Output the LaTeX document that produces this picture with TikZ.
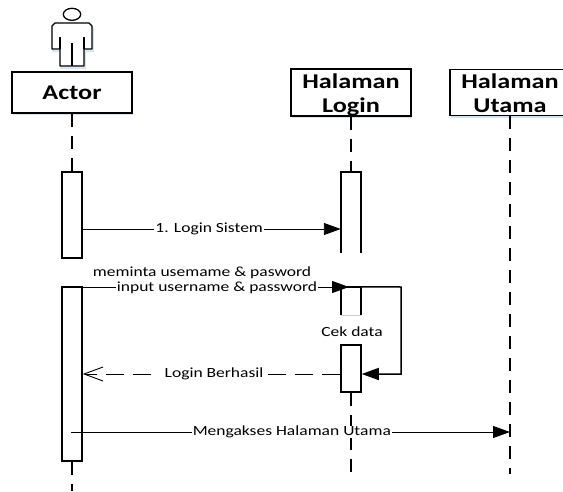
\documentclass[tikz,border=0pt]{standalone}
\usepackage{fontspec}
\setmainfont{Carlito}[FakeStretch=1.25]
\usetikzlibrary{arrows.meta,shadows}
\definecolor{glow}{RGB}{150,190,230}
\tikzset{
  x=1pt,y=-1pt,
  line/.style={line width=1.3pt,black},
  head/.style={draw,line width=1.5pt,fill=white,minimum width=120pt,minimum height=41pt,inner sep=0pt,
    align=center,font=\fontsize{21}{24}\selectfont\bfseries,
    drop shadow={shadow xshift=1pt,shadow yshift=-2pt,fill=glow,opacity=.45}},
  activ/.style={draw,line width=1.5pt,fill=white,minimum width=20pt,inner sep=0pt},
  openactiv/.style={fill=white,minimum width=20pt,inner sep=0pt},
  life/.style={line width=1.6pt,dash pattern=on 13pt off 9pt},
  msg/.style={line width=.9pt,-{Triangle[length=17pt,width=12pt]}},
  ret/.style={line width=.9pt,dash pattern=on 18pt off 9pt,-{Straight Barb[length=19pt,width=14pt,line width=.9pt]}},
  lab/.style={fill=white,inner xsep=1pt,inner ysep=0pt,font=\fontsize{14}{16}\selectfont},
  bare/.style={inner sep=0pt,font=\fontsize{14}{16}\selectfont},
}
\newcommand{\toprl}{\rule{0pt}{19pt}}
\newcommand{\botrl}{\rule[-3pt]{0pt}{3pt}}
\begin{document}
\begin{tikzpicture}
\clip (0,0) rectangle (563,491);
\useasboundingbox (0,0) rectangle (563,491);
% actor figure
\path[draw=glow,line width=1.5pt,opacity=.45,xshift=1pt,yshift=-2pt]
  (55,23) -- (89,23) -- (92,26) -- (92,49) -- (84,49) -- (84,66) -- (60,66) -- (60,49) -- (52,49) -- (52,26) -- cycle;
\draw[line,fill=white] (72,14.3) ellipse [x radius=8.7pt,y radius=6pt];
\draw[line,fill=white,line join=round]
  (55,23) -- (89,23) -- (92,26) -- (92,49) -- (84,49) -- (84,66) -- (60,66) -- (60,49) -- (52,49) -- (52,26) -- cycle;
\draw[line] (60,37) -- (60,49) (84,37) -- (84,49) (72,43) -- (72,66);
% heads
\node[head] (actor) at (72,92.5) {Actor};
\node[head] (login) at (351,92.5) {\toprl Halaman\\[0pt]Login\botrl};
\node[head] (utama) at (510,92.5) {\toprl Halaman\\[0pt]Utama\botrl};
% activations
\node[activ,minimum height=86pt] (a1) at (72,215) {};
\node[activ,minimum height=174pt] (a2) at (72,374) {};
\node[openactiv,minimum height=81pt] (l1) at (351,212.5) {};
\node[openactiv,minimum height=28pt] (l2) at (351,301) {};
\node[activ,minimum height=47pt] (l3) at (351,368.5) {};
\draw[line width=1.5pt] (l1.south west) -- (l1.north west) -- (l1.north east) -- (l1.south east);
\draw[line width=1.5pt] (l2.south west) -- (l2.north west) -- (l2.north east) -- (l2.south east);
\draw[gray!40,line width=.7pt] (l2.south west) -- (l2.south east);
% free ends
\coordinate (actorEnd) at (72,491);
\coordinate (loginEnd) at (351,474);
\coordinate (utamaEnd) at (510,474);
\coordinate (selfA) at (401,287);
\coordinate (selfB) at (401,374);
\coordinate (y1) at (0,229);
\coordinate (y2) at (0,287);
\coordinate (y3) at (0,374);
\coordinate (y4) at (0,432);
\coordinate (arr2) at (349,287);
\coordinate (start4) at (71,432);
% lifelines
\draw[life] (actor.south) -- (a1.north);
\draw[life] (a2.south) -- (actorEnd);
\draw[life] (login.south) -- (l1.north);
\draw[life] (l3.south) -- (loginEnd);
\draw[life] (utama.south) -- (utamaEnd);
% messages
\draw[msg] (a1.east |- y1) -- node[lab,pos=.49] (t1) {1. Login Sistem} (l1.west |- y1);
\draw[msg] (a2.east |- y2) -- (arr2);
\node[lab] (t2) at (217,288) {input username \& password};
\node[bare] (t0) at (202,273) {meminta usemame \& pasword};
\draw[line width=1.5pt,-{Triangle[length=17pt,width=12pt]}] (l2.north east) -- (selfA) -- (selfB) -- (l3.east |- selfB);
\node[bare] (t3) at (352,332) {Cek data};
\draw[ret] (l3.west |- y3) -- node[lab,pos=.49,inner xsep=5pt] (t4) {Login Berhasil} (a2.east |- y3);
\draw[msg] (start4) -- node[lab,pos=.503] (t5) {Mengakses Halaman Utama} (utamaEnd |- y4);
\end{tikzpicture}
\end{document}
